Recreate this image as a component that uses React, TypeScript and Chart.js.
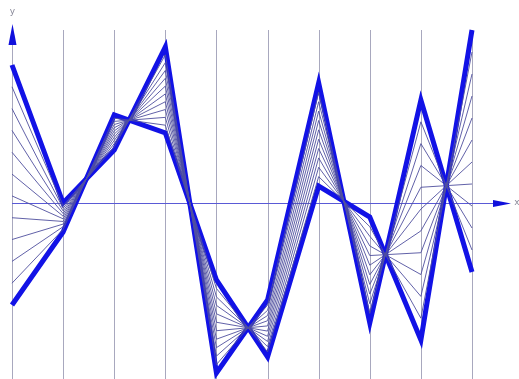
import React, { useEffect, useRef } from "react";
import { Chart, registerables } from "chart.js";

Chart.register(...registerables);

// x positions of the ten vertical lines
const xPositions = [0, 1, 2, 3, 4, 5, 6, 7, 8, 9];
// first bold polyline (starts high on the left)
const seriesA = [6.9, 0.0, 2.65, 7.8, -8.5, -4.85, 6.0, -6.0, 5.15, -3.45];
// second bold polyline (starts low on the left)
const seriesB = [-5.1, -1.45, 4.4, 3.5, -3.85, -7.7, 0.85, -0.7, -6.85, 8.65];
// blend fractions of the thin in-between polylines (A -> B)
const blendSteps = [1 / 11, 2 / 11, 3 / 11, 4 / 11, 5 / 11, 6 / 11, 7 / 11, 8 / 11, 9 / 11, 10 / 11];

const Y_MAX = 8.65;
const Y_MIN = -8.8;

const toPoints = (vals: number[]) => xPositions.map((x, i) => ({ x, y: vals[i] }));

const axesPlugin = {
  id: "axesPlugin",
  beforeDatasetsDraw(chart: any) {
    const { ctx, scales, chartArea } = chart;
    const xs = scales.x;
    const ys = scales.y;
    ctx.save();
    // vertical lines
    ctx.strokeStyle = "#a8a8be";
    ctx.lineWidth = 1;
    xPositions.forEach((v) => {
      const px = Math.round(xs.getPixelForValue(v)) + 0.5;
      ctx.beginPath();
      ctx.moveTo(px, chartArea.top);
      ctx.lineTo(px, chart.height);
      ctx.stroke();
    });
    // horizontal axis
    const py = Math.round(ys.getPixelForValue(0)) + 0.5;
    ctx.strokeStyle = "#5a5ad6";
    ctx.beginPath();
    ctx.moveTo(xs.getPixelForValue(0), py);
    ctx.lineTo(xs.getPixelForValue(9) + 30, py);
    ctx.stroke();
    ctx.restore();
  },
  afterDraw(chart: any) {
    const { ctx, scales } = chart;
    const xs = scales.x;
    const ys = scales.y;
    ctx.save();
    ctx.fillStyle = "#1010dc";
    // x arrow
    const py = Math.round(ys.getPixelForValue(0)) + 0.5;
    const ax = xs.getPixelForValue(9) + 21;
    ctx.beginPath();
    ctx.moveTo(ax, py - 3.5);
    ctx.lineTo(ax + 18, py);
    ctx.lineTo(ax, py + 3.5);
    ctx.closePath();
    ctx.fill();
    // y arrow
    const px = Math.round(xs.getPixelForValue(0)) + 0.5;
    const top = chart.chartArea.top;
    ctx.beginPath();
    ctx.moveTo(px, top - 6);
    ctx.lineTo(px + 4, top + 15);
    ctx.lineTo(px - 4, top + 15);
    ctx.closePath();
    ctx.fill();
    // labels
    ctx.fillStyle = "#8a8a9a";
    ctx.font = "9px 'DejaVu Sans'";
    ctx.textAlign = "center";
    ctx.textBaseline = "middle";
    ctx.fillText("y", px, top - 18);
    ctx.fillText("x", ax + 24, py - 1);
    ctx.restore();
  },
};

export default function App() {
  const ref = useRef<HTMLCanvasElement>(null);

  useEffect(() => {
    document.body.style.margin = "0";
    const blendDatasets = blendSteps.map((t) => ({
      data: toPoints(seriesA.map((a, i) => a + (seriesB[i] - a) * t)),
      borderColor: "rgba(80,80,158,0.9)",
      borderWidth: 1,
      pointRadius: 0,
      fill: false,
      tension: 0,
      clip: false as any,
    }));
    const bold = (vals: number[]) => ({
      data: toPoints(vals),
      borderColor: "#1212e6",
      borderWidth: 5,
      pointRadius: 0,
      fill: false,
      tension: 0,
      clip: false as any,
    });
    const chart = new Chart(ref.current!, {
      type: "line",
      data: {
        datasets: [...blendDatasets, bold(seriesA), bold(seriesB)] as any,
      },
      options: {
        animation: false,
        responsive: false,
        maintainAspectRatio: false,
        layout: { padding: { left: 12, top: 30, right: 47, bottom: 0 } },
        plugins: { legend: { display: false }, tooltip: { enabled: false } },
        scales: {
          x: { type: "linear", min: 0, max: 9, display: false },
          y: { type: "linear", min: Y_MIN, max: Y_MAX, display: false },
        },
      },
      plugins: [axesPlugin],
    });
    return () => chart.destroy();
  }, []);

  return (
    <div style={{ position: "absolute", left: 0, top: 0, width: 519, height: 379, background: "#fff" }}>
      <canvas ref={ref} width={519} height={379} />
    </div>
  );
}
